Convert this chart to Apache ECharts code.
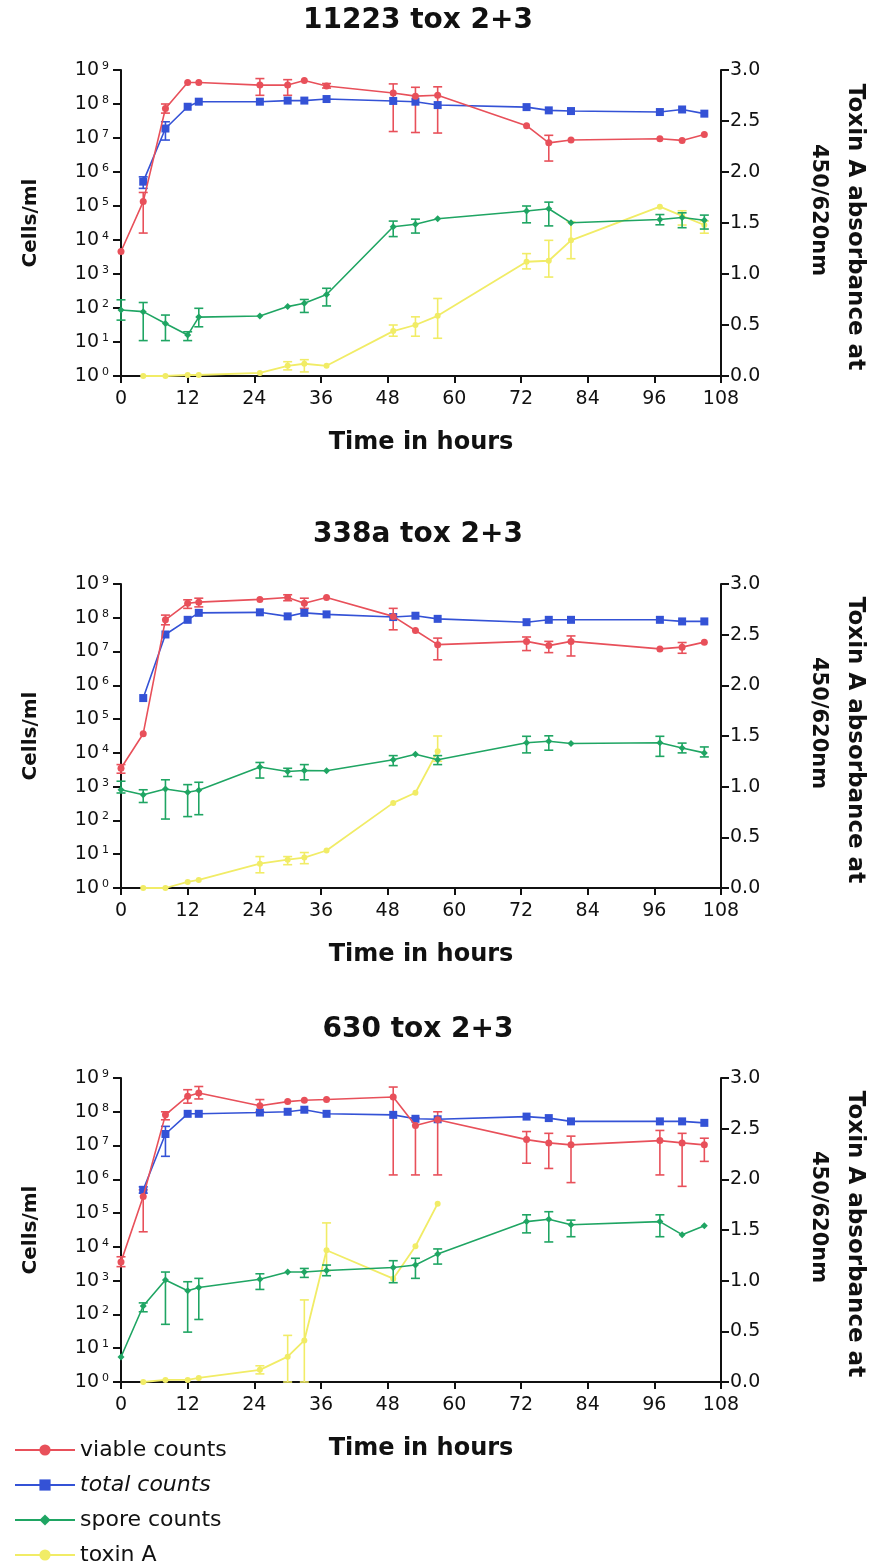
<!DOCTYPE html>
<html>
<head>
<meta charset="utf-8">
<script src="https://cdn.jsdelivr.net/npm/echarts@6/dist/echarts.min.js"></script>
<style>
  html, body { margin: 0; padding: 0; background: #ffffff; }
  #chart { width: 873px; height: 1568px; }
</style>
</head>
<body>
<div id="chart"></div>
<script>
// ---------------- DATA ----------------
const hours = [0, 4, 8, 12, 14, 25, 30, 33, 37, 49, 53, 57, 73, 77, 81, 97, 101, 105];
const xTicks = [0, 12, 24, 36, 48, 60, 72, 84, 96, 108];
const rightTicks = [0, 0.5, 1.0, 1.5, 2.0, 2.5, 3.0];
const panelTitles = ['11223 tox 2+3', '338a tox 2+3', '630 tox 2+3'];
const seriesNames = ['viable counts', 'total counts', 'spore counts', 'toxin A'];

// Panel 1: 11223 tox 2+3
const p1Viable = [4.6e3, 1.35e5, 7.4e7, 4.3e8, 4.3e8, 3.6e8, 3.6e8, 4.9e8, 3.4e8, 2.1e8, 1.7e8, 1.8e8, 2.3e7, 7.2e6, 8.7e6, 9.5e6, 8.5e6, 1.26e7];
const p1ViableErr = [null, [1.6e4, 2.5e5], [5.4e7, 1e8], null, null, [1.8e8, 5.6e8], [1.8e8, 5.2e8], null, [2.95e8, 4e8], [1.55e7, 3.9e8], [1.45e7, 3.1e8], [1.4e7, 3.2e8], null, [2.1e6, 1.2e7], null, null, null, null];
const p1Total = [null, 5.2e5, 1.9e7, 8.3e7, 1.17e8, 1.17e8, 1.26e8, 1.26e8, 1.4e8, 1.23e8, 1.17e8, 9.3e7, 8.1e7, 6.5e7, 6.2e7, 5.8e7, 6.9e7, 5.2e7];
const p1TotalErr = [null, [3.3e5, 7.2e5], [8.7e6, 3e7], null, null, null, null, null, null, null, null, null, null, null, null, null, null, null];
const p1Spore = [87, 78, 35, 16, 54, 58, 110, 138, 250, 2.45e4, 2.9e4, 4.2e4, 7.1e4, 8.3e4, 3.2e4, 4e4, 4.6e4, 3.8e4];
const p1SporeErr = [[44, 174], [11, 145], [11, 62], [11, 20], [28, 98], null, null, [74, 178], [115, 380], [1.26e4, 3.6e4], [1.6e4, 4.1e4], null, [3.2e4, 1e5], [2.6e4, 1.3e5], null, [2.8e4, 5.6e4], [2.3e4, 6.3e4], [2.1e4, 5.4e4]];
const p1Toxin = [null, 0, 0, 0.01, 0.01, 0.03, 0.1, 0.12, 0.1, 0.44, 0.5, 0.59, 1.12, 1.13, 1.33, 1.66, 1.57, 1.48];
const p1ToxinErr = [null, null, null, null, null, null, [0.06, 0.14], [0.04, 0.16], null, [0.39, 0.5], [0.39, 0.58], [0.37, 0.76], [1.05, 1.2], [0.97, 1.33], [1.15, 1.51], null, [1.48, 1.62], [1.4, 1.52]];

// Panel 2: 338a tox 2+3
const p2Viable = [3.5e3, 3.7e4, 8.7e7, 2.7e8, 2.9e8, 3.5e8, 4e8, 2.7e8, 4e8, 1.1e8, 4.2e7, 1.6e7, 2e7, 1.5e7, 2e7, 1.2e7, 1.35e7, 1.9e7];
const p2ViableErr = [[2.5e3, 4.5e3], null, [6.2e7, 1.2e8], [1.9e8, 3.4e8], [2.1e8, 3.8e8], null, [3.2e8, 4.8e8], [1.9e8, 3.8e8], null, [4.4e7, 1.9e8], null, [5.7e6, 2.5e7], [1.07e7, 2.7e7], [9.3e6, 2e7], [7.4e6, 2.9e7], null, [8.9e6, 1.85e7], null];
const p2Total = [null, 4.2e5, 3.2e7, 8.7e7, 1.4e8, 1.45e8, 1.1e8, 1.4e8, 1.26e8, 1.05e8, 1.15e8, 9.3e7, 7.4e7, 8.7e7, 8.7e7, 8.7e7, 7.8e7, 7.8e7];
const p2TotalErr = [null, null, null, null, null, null, null, null, null, null, null, null, null, null, null, null, null, null];
const p2Spore = [810, 575, 850, 680, 780, 3.8e3, 2.8e3, 3e3, 2.95e3, 6.3e3, 9.1e3, 6.3e3, 2e4, 2.2e4, 1.9e4, 2e4, 1.4e4, 1e4];
const p2SporeErr = [[650, 1.45e3], [340, 810], [110, 1.6e3], [130, 1.15e3], [148, 1.35e3], [1.8e3, 5.2e3], [2e3, 3.5e3], [1.6e3, 4.5e3], null, [4.2e3, 8.3e3], null, [4.5e3, 8.3e3], [1e4, 3.1e4], [1.2e4, 3.2e4], null, [7.9e3, 3.1e4], [1e4, 1.95e4], [7.6e3, 1.5e4]];
const p2Toxin = [null, 0, 0, 0.06, 0.08, 0.24, 0.28, 0.3, 0.37, 0.84, 0.94, 1.35, null, null, null, null, null, null];
const p2ToxinErr = [null, null, null, null, null, [0.15, 0.31], [0.23, 0.31], [0.24, 0.35], null, null, null, [1.25, 1.5], null, null, null, null, null, null];

// Panel 3: 630 tox 2+3
const p3Viable = [3.6e3, 3.1e5, 8.1e7, 2.9e8, 3.6e8, 1.5e8, 2e8, 2.2e8, 2.3e8, 2.75e8, 3.9e7, 5.8e7, 1.5e7, 1.2e7, 1.05e7, 1.4e7, 1.2e7, 1.05e7];
const p3ViableErr = [[2.6e3, 5.1e3], [2.8e4, 4.9e5], [5.8e7, 1e8], [1.8e8, 4.5e8], [2.4e8, 5.6e8], [1e8, 2.3e8], null, null, null, [1.35e6, 5.4e8], [1.35e6, 6.5e7], [1.35e6, 1e8], [3e6, 2.6e7], [2.1e6, 2.3e7], [8e5, 1.9e7], [1.35e6, 2.8e7], [6.2e5, 2.3e7], [3.4e6, 1.65e7]];
const p3Total = [null, 4.9e5, 2.2e7, 8.7e7, 8.7e7, 9.5e7, 1e8, 1.15e8, 8.7e7, 8.1e7, 6.2e7, 6e7, 7.2e7, 6.5e7, 5.2e7, 5.2e7, 5.2e7, 4.7e7];
const p3TotalErr = [null, [3.9e5, 6e5], [4.8e6, 3.7e7], null, null, null, null, null, null, null, null, null, null, null, null, null, null, null];
const p3Spore = [5.5, 178, 1.05e3, 500, 630, 1.1e3, 1.8e3, 1.8e3, 2e3, 2.45e3, 2.9e3, 6.2e3, 5.6e4, 6.6e4, 4.5e4, 5.6e4, 2.3e4, 4.2e4];
const p3SporeErr = [null, [120, 220], [51, 1.8e3], [30, 930], [71, 1.17e3], [550, 1.6e3], null, [1.25e3, 2.3e3], [1.4e3, 2.9e3], [870, 3.9e3], [1.17e3, 4.6e3], [3.1e3, 8.7e3], [2.6e4, 8.9e4], [1.4e4, 1.1e5], [2e4, 6.2e4], [2e4, 8.9e4], null, null];
const p3Toxin = [null, 0, 0.02, 0.02, 0.04, 0.12, 0.25, 0.41, 1.3, 1.02, 1.34, 1.76, null, null, null, null, null, null];
const p3ToxinErr = [null, null, null, null, null, [0.08, 0.16], [0, 0.46], [0, 0.81], [1.1, 1.57], null, null, null, null, null, null, null, null, null];

// ---------------- STYLE / LAYOUT ----------------
const COLORS = { viable: '#e8505a', total: '#3452d6', spore: '#1fa563', toxin: '#f1ec66' };
const INK = '#111111';
const FONT = 'DejaVu Sans';
const grids = [
  { left: 121, top: 70, width: 600, height: 306 },
  { left: 121, top: 584, width: 600, height: 304 },
  { left: 121, top: 1078, width: 600, height: 304 }
];
const titleY = [21, 535, 1030];

const panels = [
  { viable: p1Viable, viableErr: p1ViableErr, total: p1Total, totalErr: p1TotalErr, spore: p1Spore, sporeErr: p1SporeErr, toxin: p1Toxin, toxinErr: p1ToxinErr },
  { viable: p2Viable, viableErr: p2ViableErr, total: p2Total, totalErr: p2TotalErr, spore: p2Spore, sporeErr: p2SporeErr, toxin: p2Toxin, toxinErr: p2ToxinErr },
  { viable: p3Viable, viableErr: p3ViableErr, total: p3Total, totalErr: p3TotalErr, spore: p3Spore, sporeErr: p3SporeErr, toxin: p3Toxin, toxinErr: p3ToxinErr }
];

function pts(vals) {
  const out = [];
  hours.forEach((h, i) => { if (vals[i] != null) out.push([h, vals[i]]); });
  return out;
}
function errPts(errs) {
  const out = [];
  hours.forEach((h, i) => { if (errs[i] != null) out.push([h, errs[i][0], errs[i][1]]); });
  return out;
}
function errSeries(name, color, data, xi, yi) {
  return {
    type: 'custom', name: name, xAxisIndex: xi, yAxisIndex: yi,
    data: data, encode: { x: 0, y: [1, 2] }, z: 3, silent: true,
    renderItem: function (params, api) {
      const x = api.value(0);
      const a = api.coord([x, api.value(1)]);
      const b = api.coord([x, api.value(2)]);
      const w = 4.5;
      const st = { stroke: color, lineWidth: 1.6 };
      return {
        type: 'group',
        children: [
          { type: 'line', shape: { x1: a[0], y1: a[1], x2: b[0], y2: b[1] }, style: st },
          { type: 'line', shape: { x1: a[0] - w, y1: a[1], x2: a[0] + w, y2: a[1] }, style: st },
          { type: 'line', shape: { x1: b[0] - w, y1: b[1], x2: b[0] + w, y2: b[1] }, style: st }
        ]
      };
    }
  };
}

const xAxes = [], yAxes = [], series = [], graphics = [];
grids.forEach((g, i) => {
  xAxes.push({
    type: 'value', gridIndex: i, min: xTicks[0], max: xTicks[xTicks.length - 1], interval: 12,
    axisLine: { show: true, onZero: false, lineStyle: { color: INK, width: 2 } },
    axisTick: { show: true, inside: false, length: 7, lineStyle: { color: INK, width: 2 } },
    axisLabel: { color: INK, fontFamily: FONT, fontSize: 19, margin: 14 },
    splitLine: { show: false },
    name: 'Time in hours', nameLocation: 'middle', nameGap: 55,
    nameTextStyle: { color: INK, fontFamily: FONT, fontWeight: 'bold', fontSize: 24 }
  });
  yAxes.push({
    type: 'log', logBase: 10, gridIndex: i, min: 1, max: 1e9, interval: 1, position: 'left',
    axisLine: { show: true, onZero: false, lineStyle: { color: INK, width: 2 } },
    axisTick: { show: true, inside: false, length: 8, lineStyle: { color: INK, width: 2 } },
    axisLabel: {
      color: INK, fontFamily: FONT, fontSize: 19, margin: 12,
      formatter: function (v) { return '10{s|' + Math.round(Math.log10(v)) + '}'; },
      rich: { s: { fontSize: 11, fontFamily: FONT, color: INK, verticalAlign: 'top', padding: [0, 0, 0, 3] } }
    },
    splitLine: { show: false }, minorTick: { show: false },
    name: 'Cells/ml', nameLocation: 'middle', nameGap: 80, nameRotate: 90,
    nameTextStyle: { color: INK, fontFamily: FONT, fontWeight: 'bold', fontSize: 20 }
  });
  yAxes.push({
    type: 'value', gridIndex: i, min: rightTicks[0], max: rightTicks[rightTicks.length - 1], interval: 0.5, position: 'right',
    axisLine: { show: true, onZero: false, lineStyle: { color: INK, width: 2 } },
    axisTick: { show: true, inside: false, length: 8, lineStyle: { color: INK, width: 2 } },
    axisLabel: { color: INK, fontFamily: FONT, fontSize: 19, margin: 9, formatter: v => v.toFixed(1) },
    splitLine: { show: false }
  });

  const P = panels[i];
  const yl = 2 * i, yr = 2 * i + 1;
  // error bars
  series.push(errSeries('toxin A err', COLORS.toxin, errPts(P.toxinErr), i, yr));
  series.push(errSeries('spore counts err', COLORS.spore, errPts(P.sporeErr), i, yl));
  series.push(errSeries('total counts err', COLORS.total, errPts(P.totalErr), i, yl));
  series.push(errSeries('viable counts err', COLORS.viable, errPts(P.viableErr), i, yl));
  // lines
  series.push({ type: 'line', name: 'toxin A', xAxisIndex: i, yAxisIndex: yr, data: pts(P.toxin), z: 2,
    symbol: 'circle', symbolSize: 6, showAllSymbol: true, color: COLORS.toxin,
    lineStyle: { width: 1.8, color: COLORS.toxin }, itemStyle: { color: COLORS.toxin } });
  series.push({ type: 'line', name: 'spore counts', xAxisIndex: i, yAxisIndex: yl, data: pts(P.spore), z: 4,
    symbol: 'diamond', symbolSize: 7, showAllSymbol: true, color: COLORS.spore,
    lineStyle: { width: 1.6, color: COLORS.spore }, itemStyle: { color: COLORS.spore } });
  series.push({ type: 'line', name: 'total counts', xAxisIndex: i, yAxisIndex: yl, data: pts(P.total), z: 5,
    symbol: 'rect', symbolSize: 8, showAllSymbol: true, color: COLORS.total,
    lineStyle: { width: 1.6, color: COLORS.total }, itemStyle: { color: COLORS.total } });
  series.push({ type: 'line', name: 'viable counts', xAxisIndex: i, yAxisIndex: yl, data: pts(P.viable), z: 6,
    symbol: 'circle', symbolSize: 7, showAllSymbol: true, color: COLORS.viable,
    lineStyle: { width: 1.6, color: COLORS.viable }, itemStyle: { color: COLORS.viable } });

  // title
  graphics.push({ type: 'text', x: 418, y: titleY[i], z: 10,
    style: { text: panelTitles[i], fill: INK, font: 'bold 28px "DejaVu Sans"', textAlign: 'center', textVerticalAlign: 'middle' } });
  // right axis name (two lines, rotated clockwise)
  const midY = g.top + g.height / 2;
  graphics.push({ type: 'text', x: 855, y: midY + 4, rotation: -Math.PI / 2, z: 10,
    style: { text: 'Toxin A absorbance at', fill: INK, font: 'bold 23px "DejaVu Sans"', textAlign: 'center', textVerticalAlign: 'middle' } });
  graphics.push({ type: 'text', x: 818, y: midY - 13, rotation: -Math.PI / 2, z: 10,
    style: { text: '450/620nm', fill: INK, font: 'bold 21px "DejaVu Sans"', textAlign: 'center', textVerticalAlign: 'middle' } });
});

const option = {
  backgroundColor: '#ffffff',
  animation: false,
  grid: grids.map(g => Object.assign({ containLabel: false }, g)),
  xAxis: xAxes,
  yAxis: yAxes,
  legend: {
    orient: 'vertical', left: 14, top: 1439, padding: 0, height: 200,
    itemWidth: 60, itemHeight: 14, itemGap: 13,
    data: [
      { name: seriesNames[0] },
      { name: seriesNames[1], textStyle: { fontStyle: 'italic' } },
      { name: seriesNames[2] },
      { name: seriesNames[3] }
    ],
    textStyle: { color: INK, fontFamily: FONT, fontSize: 22, lineHeight: 22 }
  },
  series: series,
  graphic: graphics
};

const chart = echarts.init(document.getElementById('chart'), null, { renderer: 'canvas' });
chart.setOption(option);
</script>
</body>
</html>
